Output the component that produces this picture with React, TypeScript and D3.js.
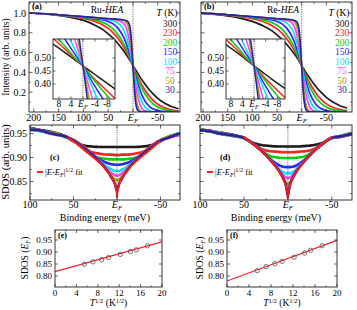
import * as d3 from "d3";

const FONT = "'Liberation Serif', 'Times New Roman', Times, serif";
const AXIS = "#222";

// temperatures (K) in legend order, and the colour of each curve
const temps = ["300", "230", "200", "150", "100", "75", "50", "30"];
const tempColors = ["#1b1b1b", "#ff2424", "#0ccf0c", "#2626ff", "#00e4ff", "#ff40ff", "#a8981c", "#25259c"];

// (a),(b) spectra: binding energy (meV) and intensity per temperature
const energy = [210, 175, 150, 125, 100, 80, 60, 50, 40, 30, 20, 15, 10, 6, 3, 0, -3, -6, -10, -15, -20, -30, -40, -50, -65, -80, -92];
const ruSpectra = [
  [1.0, 0.988, 0.975, 0.955, 0.925, 0.885, 0.83, 0.79, 0.745, 0.69, 0.626, 0.59, 0.553, 0.521, 0.496, 0.47, 0.445, 0.42, 0.387, 0.347, 0.31, 0.242, 0.185, 0.138, 0.085, 0.05, 0.033],
  [1.0, 0.99, 0.979, 0.963, 0.945, 0.92, 0.877, 0.845, 0.8, 0.742, 0.668, 0.624, 0.575, 0.534, 0.5, 0.47, 0.43, 0.396, 0.352, 0.3, 0.255, 0.178, 0.12, 0.078, 0.04, 0.02, 0.012],
  [1.0, 0.991, 0.98, 0.968, 0.953, 0.935, 0.903, 0.877, 0.838, 0.78, 0.7, 0.652, 0.595, 0.545, 0.505, 0.47, 0.425, 0.383, 0.33, 0.27, 0.218, 0.138, 0.085, 0.05, 0.022, 0.01, 0.005],
  [1.0, 0.991, 0.981, 0.97, 0.958, 0.945, 0.93, 0.915, 0.89, 0.845, 0.766, 0.71, 0.638, 0.572, 0.52, 0.47, 0.41, 0.355, 0.285, 0.21, 0.15, 0.07, 0.032, 0.014, 0.004, 0.001, 0],
  [1.0, 0.992, 0.982, 0.971, 0.961, 0.952, 0.942, 0.935, 0.922, 0.898, 0.84, 0.785, 0.7, 0.615, 0.54, 0.47, 0.39, 0.315, 0.228, 0.14, 0.082, 0.022, 0.005, 0.001, 0, 0, 0],
  [1.0, 0.992, 0.982, 0.972, 0.962, 0.953, 0.945, 0.94, 0.935, 0.925, 0.9, 0.865, 0.785, 0.68, 0.58, 0.47, 0.35, 0.25, 0.15, 0.065, 0.025, 0.003, 0, 0, 0, 0, 0],
  [1.0, 0.992, 0.982, 0.972, 0.962, 0.954, 0.946, 0.942, 0.938, 0.933, 0.925, 0.91, 0.87, 0.78, 0.64, 0.47, 0.29, 0.15, 0.05, 0.01, 0.002, 0, 0, 0, 0, 0, 0],
  [1.0, 0.992, 0.982, 0.972, 0.963, 0.955, 0.947, 0.943, 0.94, 0.936, 0.932, 0.925, 0.91, 0.855, 0.71, 0.47, 0.22, 0.075, 0.015, 0.002, 0, 0, 0, 0, 0, 0, 0],
];
const reSpectra = [
  [1.0, 0.985, 0.97, 0.948, 0.915, 0.875, 0.82, 0.78, 0.735, 0.682, 0.622, 0.588, 0.553, 0.522, 0.496, 0.47, 0.445, 0.42, 0.388, 0.35, 0.315, 0.25, 0.195, 0.148, 0.095, 0.058, 0.04],
  [1.0, 0.989, 0.977, 0.961, 0.942, 0.916, 0.872, 0.84, 0.796, 0.738, 0.665, 0.622, 0.574, 0.533, 0.5, 0.47, 0.432, 0.398, 0.355, 0.304, 0.26, 0.183, 0.125, 0.082, 0.043, 0.022, 0.013],
  [1.0, 0.991, 0.98, 0.968, 0.953, 0.935, 0.903, 0.877, 0.838, 0.78, 0.7, 0.652, 0.595, 0.545, 0.505, 0.47, 0.425, 0.383, 0.33, 0.27, 0.218, 0.138, 0.085, 0.05, 0.022, 0.01, 0.005],
  [1.0, 0.991, 0.981, 0.97, 0.958, 0.945, 0.93, 0.915, 0.89, 0.845, 0.766, 0.71, 0.638, 0.572, 0.52, 0.47, 0.41, 0.355, 0.285, 0.21, 0.15, 0.07, 0.032, 0.014, 0.004, 0.001, 0],
  [1.0, 0.992, 0.982, 0.971, 0.961, 0.952, 0.942, 0.935, 0.922, 0.898, 0.84, 0.785, 0.7, 0.615, 0.54, 0.47, 0.39, 0.315, 0.228, 0.14, 0.082, 0.022, 0.005, 0.001, 0, 0, 0],
  [1.0, 0.992, 0.982, 0.972, 0.962, 0.953, 0.945, 0.94, 0.935, 0.925, 0.9, 0.865, 0.785, 0.68, 0.58, 0.47, 0.35, 0.25, 0.15, 0.065, 0.025, 0.003, 0, 0, 0, 0, 0],
  [1.0, 0.992, 0.982, 0.972, 0.962, 0.954, 0.946, 0.942, 0.938, 0.933, 0.925, 0.91, 0.87, 0.78, 0.64, 0.47, 0.29, 0.15, 0.05, 0.01, 0.002, 0, 0, 0, 0, 0, 0],
  [1.0, 0.992, 0.982, 0.972, 0.963, 0.955, 0.947, 0.943, 0.94, 0.936, 0.932, 0.925, 0.91, 0.855, 0.71, 0.47, 0.22, 0.075, 0.015, 0.002, 0, 0, 0, 0, 0, 0, 0],
];

// (c),(d) symmetrized DOS per temperature
const sdosEnergy = [100, 90, 80, 70, 60, 50, 40, 30, 20, 12, 6, 2, 0, -2, -6, -12, -20, -30, -40, -50, -60, -72];
const ruSdos = [
  [0.962, 0.958, 0.955, 0.951, 0.945, 0.934, 0.926, 0.923, 0.922, 0.922, 0.922, 0.922, 0.922, 0.922, 0.922, 0.922, 0.922, 0.923, 0.926, 0.934, 0.944, 0.950],
  [0.959, 0.956, 0.953, 0.948, 0.944, 0.937, 0.925, 0.912, 0.908, 0.906, 0.906, 0.905, 0.905, 0.905, 0.906, 0.906, 0.908, 0.912, 0.925, 0.937, 0.942, 0.948],
  [0.961, 0.957, 0.952, 0.950, 0.943, 0.936, 0.92, 0.906, 0.899, 0.897, 0.896, 0.896, 0.896, 0.896, 0.896, 0.897, 0.899, 0.906, 0.92, 0.936, 0.944, 0.950],
  [0.958, 0.956, 0.954, 0.948, 0.945, 0.935, 0.922, 0.909, 0.896, 0.889, 0.886, 0.885, 0.885, 0.885, 0.886, 0.889, 0.896, 0.909, 0.922, 0.935, 0.942, 0.947],
  [0.960, 0.955, 0.952, 0.949, 0.942, 0.935, 0.922, 0.908, 0.893, 0.881, 0.875, 0.872, 0.872, 0.872, 0.875, 0.881, 0.893, 0.908, 0.922, 0.935, 0.943, 0.951],
  [0.957, 0.958, 0.951, 0.947, 0.944, 0.935, 0.922, 0.908, 0.892, 0.877, 0.867, 0.863, 0.862, 0.863, 0.867, 0.877, 0.892, 0.908, 0.922, 0.935, 0.941, 0.948],
  [0.960, 0.956, 0.953, 0.950, 0.943, 0.935, 0.922, 0.908, 0.892, 0.875, 0.861, 0.854, 0.852, 0.854, 0.861, 0.875, 0.892, 0.908, 0.922, 0.935, 0.944, 0.949],
  [0.958, 0.957, 0.952, 0.948, 0.944, 0.935, 0.922, 0.908, 0.891, 0.874, 0.857, 0.843, 0.830, 0.843, 0.857, 0.874, 0.891, 0.908, 0.922, 0.935, 0.942, 0.950],
];
const reSdos = [
  [0.959, 0.956, 0.953, 0.950, 0.946, 0.940, 0.931, 0.926, 0.924, 0.923, 0.923, 0.923, 0.923, 0.923, 0.923, 0.923, 0.924, 0.926, 0.931, 0.940, 0.945, 0.951],
  [0.957, 0.955, 0.951, 0.947, 0.945, 0.941, 0.93, 0.918, 0.913, 0.912, 0.911, 0.911, 0.911, 0.911, 0.911, 0.912, 0.913, 0.918, 0.93, 0.941, 0.943, 0.949],
  [0.958, 0.954, 0.952, 0.949, 0.944, 0.941, 0.929, 0.915, 0.903, 0.9, 0.899, 0.899, 0.899, 0.899, 0.899, 0.9, 0.903, 0.915, 0.929, 0.941, 0.945, 0.950],
  [0.956, 0.956, 0.950, 0.948, 0.946, 0.941, 0.929, 0.914, 0.897, 0.886, 0.881, 0.88, 0.88, 0.88, 0.881, 0.886, 0.897, 0.914, 0.929, 0.941, 0.943, 0.948],
  [0.959, 0.954, 0.953, 0.947, 0.944, 0.941, 0.929, 0.914, 0.896, 0.88, 0.87, 0.867, 0.867, 0.867, 0.87, 0.88, 0.896, 0.914, 0.929, 0.941, 0.945, 0.951],
  [0.957, 0.956, 0.951, 0.949, 0.945, 0.941, 0.929, 0.914, 0.895, 0.878, 0.864, 0.858, 0.857, 0.858, 0.864, 0.878, 0.895, 0.914, 0.929, 0.941, 0.943, 0.949],
  [0.958, 0.955, 0.952, 0.948, 0.944, 0.941, 0.929, 0.914, 0.895, 0.877, 0.86, 0.847, 0.844, 0.847, 0.86, 0.877, 0.895, 0.914, 0.929, 0.941, 0.944, 0.950],
  [0.957, 0.955, 0.951, 0.948, 0.945, 0.941, 0.929, 0.914, 0.895, 0.877, 0.859, 0.84, 0.821, 0.84, 0.859, 0.877, 0.895, 0.914, 0.929, 0.941, 0.944, 0.949],
];

// |E-E_F|^1/2 fits in (c),(d)
const ruFitE = [57, 45, 35, 25, 18, 12, 8, 4, 2, 1, 0.3, 0, -0.3, -1, -2, -4, -8, -12, -18, -25, -35, -45, -50];
const ruFit = [0.942, 0.927, 0.912, 0.897, 0.886, 0.873, 0.864, 0.851, 0.841, 0.834, 0.827, 0.816, 0.827, 0.834, 0.841, 0.851, 0.864, 0.873, 0.886, 0.897, 0.912, 0.927, 0.934];
const reFitE = [50, 45, 35, 25, 18, 12, 8, 4, 2, 1, 0.3, 0, -0.3, -1, -2, -4, -8, -12, -18, -25, -35, -45, -50];
const reFit = [0.943, 0.936, 0.922, 0.905, 0.891, 0.877, 0.865, 0.85, 0.84, 0.832, 0.824, 0.814, 0.824, 0.832, 0.84, 0.85, 0.865, 0.877, 0.891, 0.905, 0.922, 0.936, 0.943];

// (e),(f) SDOS(E_F) against T^1/2, with linear fits
const sqrtT = [5.5, 7.1, 8.7, 10.0, 12.2, 14.1, 15.2, 17.3];
const ruSdosEf = [0.849, 0.859, 0.868, 0.877, 0.89, 0.902, 0.909, 0.926];
const reSdosEf = [0.822, 0.839, 0.851, 0.861, 0.878, 0.896, 0.907, 0.926];
const fitLineX = [0, 20];
const ruFitLine = [0.818, 0.942];
const reFitLine = [0.779, 0.949];

// tick values
const mainTicks = [200, 150, 100, 50, 0, -50];
const mainMinor = [175, 125, 75, 25, -25, -75];
const intensityTicks = [0.2, 0.4, 0.6, 0.8, 1.0];
const intensityMinor = [0.1, 0.3, 0.5, 0.7, 0.9, 1.1];
const insetTicks = [8, 4, 0, -4, -8];
const insetYTicks = [0.4, 0.45, 0.5];
const sdosXTicks = [100, 50, 0, -50];
const sdosXMinor = [75, 25, -25];
const sdosYTicks = [0.85, 0.9, 0.95];
const sdosYMinor = [0.825, 0.875, 0.925];
const tTicks = [0, 4, 8, 12, 16, 20];
const tMinor = [2, 6, 10, 14, 18];
const efTicks = [0.8, 0.85, 0.9, 0.95];

const linePath = (xs: number[], ys: number[], x: any, y: any, curve: any = d3.curveMonotoneX) =>
  d3.line<number>().x((_, i) => x(xs[i])).y((d) => y(d)).curve(curve)(ys) ?? "";

function Frame({ x, y, l, r, t, b, xMajor, xMinor = [], yMajor, yMinor = [], len = 3.5 }: any) {
  let d = "";
  for (const v of xMajor) d += `M${x(v)},${b}v${-len}M${x(v)},${t}v${len}`;
  for (const v of xMinor) d += `M${x(v)},${b}v${-len / 2}M${x(v)},${t}v${len / 2}`;
  for (const v of yMajor) d += `M${l},${y(v)}h${len}M${r},${y(v)}h${-len}`;
  for (const v of yMinor) d += `M${l},${y(v)}h${len / 2}M${r},${y(v)}h${-len / 2}`;
  return (
    <g>
      <path d={d} stroke={AXIS} strokeWidth={0.7} fill="none" />
      <rect x={l} y={t} width={r - l} height={b - t} fill="none" stroke={AXIS} strokeWidth={0.9} />
    </g>
  );
}

function EFText({ x, y, size = 10 }: any) {
  return (
    <text x={x} y={y} fontSize={size} textAnchor="middle">
      <tspan fontStyle="italic">E</tspan>
      <tspan fontStyle="italic" fontSize={size * 0.68} dy={size * 0.2}>F</tspan>
    </text>
  );
}

function EnergyLabel({ v, x, y, size = 10 }: any) {
  if (v === 0) return <EFText x={x} y={y} size={size} />;
  return (
    <text x={x} y={y} fontSize={size} textAnchor="middle">{v}</text>
  );
}

function SpectraPanel({ id, tag, sample, l, r, dom, spectra, showY, ins, legendX, titleX }: any) {
  const t = 2, b = 112;
  const x = d3.scaleLinear().domain(dom).range([l, r]);
  const y = d3.scaleLinear().domain([0, 1]).range([112, 13]);
  const it = 39, ib = 99;
  const xi = d3.scaleLinear().domain(ins.dom).range([ins.l, ins.r]);
  const yi = d3.scaleLinear().domain([0.4, 0.5]).range([84, 58]);
  return (
    <g>
      <defs>
        <clipPath id={`clip-${id}`}><rect x={l} y={t} width={r - l} height={b - t} /></clipPath>
        <clipPath id={`clipi-${id}`}><rect x={ins.l} y={it} width={ins.r - ins.l} height={ib - it} /></clipPath>
      </defs>
      <g clipPath={`url(#clip-${id})`}>
        {spectra.map((row: number[], k: number) => (
          <path key={k} d={linePath(energy, row, x, y)} fill="none" stroke={tempColors[k]} strokeWidth={1.7} />
        ))}
      </g>
      <line x1={x(0)} x2={x(0)} y1={t} y2={b} stroke="#444" strokeWidth={0.9} strokeDasharray="1,1.3" />
      <Frame x={x} y={y} l={l} r={r} t={t} b={b} xMajor={mainTicks} xMinor={mainMinor.filter((v) => v < dom[0] && v > dom[1])} yMajor={intensityTicks} yMinor={intensityMinor} />
      {mainTicks.map((v) => <EnergyLabel key={v} v={v} x={x(v)} y={121} />)}
      {showY && intensityTicks.map((v) => (
        <text key={v} x={l - 3} y={y(v) + 3.5} fontSize={10} textAnchor="end">{v.toFixed(1)}</text>
      ))}
      <text x={l + 3} y={9} fontSize={8.5} fontWeight="bold">{tag}</text>
      <text x={titleX} y={13} fontSize={9.5} textAnchor="middle">
        {sample}-<tspan fontStyle="italic">HEA</tspan>
      </text>
      <text x={legendX - 3} y={16} fontSize={9.5} textAnchor="middle">
        <tspan fontStyle="italic">T</tspan> (K)
      </text>
      {temps.map((tt, k) => (
        <text key={tt} x={legendX} y={27 + k * 9.45} fontSize={9.5} textAnchor="middle" fill={tempColors[k]}>{tt}</text>
      ))}
      {/* inset near E_F */}
      <rect x={ins.l} y={it} width={ins.r - ins.l} height={ib - it} fill="#fff" />
      <g clipPath={`url(#clipi-${id})`}>
        {spectra.map((row: number[], k: number) => (
          <path key={k} d={linePath(energy, row, xi, yi)} fill="none" stroke={tempColors[k]} strokeWidth={1.5} />
        ))}
      </g>
      <line x1={xi(0)} x2={xi(0)} y1={it} y2={ib} stroke="#444" strokeWidth={0.9} strokeDasharray="1,1.3" />
      <Frame x={xi} y={yi} l={ins.l} r={ins.r} t={it} b={ib} xMajor={insetTicks} yMajor={insetYTicks} len={2.5} />
      {insetTicks.map((v) => <EnergyLabel key={v} v={v} x={xi(v)} y={107} size={9.5} />)}
      {insetYTicks.map((v) => (
        <text key={v} x={ins.l - 2} y={yi(v) + 3.3} fontSize={9.5} textAnchor="end">{v.toFixed(2)}</text>
      ))}
    </g>
  );
}

function FitLegend({ x, y }: any) {
  return (
    <g>
      <line x1={x} x2={x + 6} y1={y} y2={y} stroke="#ff2020" strokeWidth={2} />
      <text x={x + 8} y={y + 3} fontSize={8.5}>
        |<tspan fontStyle="italic">E</tspan>-<tspan fontStyle="italic">E</tspan>
        <tspan fontStyle="italic" fontSize={6} dy={2}>F</tspan>
        <tspan dy={-2}>|</tspan>
        <tspan fontSize={6} dy={-3.5}>1/2</tspan>
        <tspan dy={3.5}> fit</tspan>
      </text>
    </g>
  );
}

function SdosPanel({ id, tag, l, r, dom, sdos, fitE, fit, showY }: any) {
  const t = 125, b = 200;
  const x = d3.scaleLinear().domain(dom).range([l, r]);
  const y = d3.scaleLinear().domain([0.85, 0.95]).range([181.5, 133.5]);
  return (
    <g>
      <defs>
        <clipPath id={`clip-${id}`}><rect x={l} y={t} width={r - l} height={b - t} /></clipPath>
      </defs>
      <g clipPath={`url(#clip-${id})`}>
        {sdos.map((row: number[], k: number) => (
          <path key={k} d={linePath(sdosEnergy, row, x, y)} fill="none" stroke={tempColors[k]} strokeWidth={2.6} strokeLinecap="round" strokeDasharray="2,0.6" />
        ))}
        <path d={linePath(fitE, fit, x, y, d3.curveLinear)} fill="none" stroke="#ff1a1a" strokeWidth={2} />
      </g>
      <line x1={x(0)} x2={x(0)} y1={t} y2={b} stroke="#444" strokeWidth={0.9} strokeDasharray="1,1.3" />
      <Frame x={x} y={y} l={l} r={r} t={t} b={b} xMajor={sdosXTicks} xMinor={sdosXMinor} yMajor={sdosYTicks} yMinor={sdosYMinor} />
      {sdosXTicks.map((v) => <EnergyLabel key={v} v={v} x={x(v)} y={207.5} />)}
      {showY && sdosYTicks.map((v) => (
        <text key={v} x={l - 3} y={y(v) + 3.5} fontSize={10} textAnchor="end">{v.toFixed(2)}</text>
      ))}
      <text x={l + 20} y={160} fontSize={8.5} fontWeight="bold">{tag}</text>
      <FitLegend x={l + 7} y={172} />
      <text x={(l + r) / 2} y={220.5} fontSize={10} textAnchor="middle">Binding energy (meV)</text>
    </g>
  );
}

function EfPanel({ id, tag, l, r, vals, line, labelX }: any) {
  const t = 230, b = 287;
  const x = d3.scaleLinear().domain([0, 20]).range([l, r]);
  const y = d3.scaleLinear().domain([0.8, 0.95]).range([276, 240]);
  return (
    <g>
      <defs>
        <clipPath id={`clip-${id}`}><rect x={l} y={t} width={r - l} height={b - t} /></clipPath>
      </defs>
      <g clipPath={`url(#clip-${id})`}>
        <path d={linePath(fitLineX, line, x, y, d3.curveLinear)} stroke="#ff1a1a" strokeWidth={1.2} fill="none" />
      </g>
      {vals.map((v: number, i: number) => (
        <circle key={i} cx={x(sqrtT[i])} cy={y(v)} r={2.2} fill="none" stroke="#555" strokeWidth={0.8} />
      ))}
      <Frame x={x} y={y} l={l} r={r} t={t} b={b} xMajor={tTicks} xMinor={tMinor} yMajor={efTicks} len={3} />
      {tTicks.map((v) => (
        <text key={v} x={x(v)} y={296} fontSize={9} textAnchor="middle">{v}</text>
      ))}
      {efTicks.map((v) => (
        <text key={v} x={l - 3} y={y(v) + 3.2} fontSize={9} textAnchor="end">{v.toFixed(2)}</text>
      ))}
      <text x={l + 3} y={238} fontSize={8} fontWeight="bold">{tag}</text>
      <text x={(l + r) / 2} y={306} fontSize={9.5} textAnchor="middle">
        <tspan fontStyle="italic">T</tspan>
        <tspan fontSize={6.5} dy={-3.5}>1/2</tspan>
        <tspan dy={3.5}> (K</tspan>
        <tspan fontSize={6.5} dy={-3.5}>1/2</tspan>
        <tspan dy={3.5}>)</tspan>
      </text>
      <text transform={`translate(${labelX},258) rotate(-90)`} fontSize={9.5} textAnchor="middle">
        SDOS (<tspan fontStyle="italic">E</tspan>
        <tspan fontStyle="italic" fontSize={6.5} dy={2}>F</tspan>
        <tspan dy={-2}>)</tspan>
      </text>
    </g>
  );
}

export default function App() {
  return (
    <svg
      width={357}
      height={310}
      viewBox="0 0 357 310"
      style={{ position: "absolute", left: 0, top: 0, background: "#fff" }}
      fontFamily={FONT}
    >
      <SpectraPanel id="a" tag="(a)" sample="Ru" l={29} r={180} dom={[209.7, -94.8]} spectra={ruSpectra} showY
        ins={{ l: 53, r: 115, dom: [10, -10.7] }} legendX={170} titleX={107} />
      <SpectraPanel id="b" tag="(b)" sample="Re" l={201} r={352} dom={[204, -102]} spectra={reSpectra} showY={false}
        ins={{ l: 226, r: 285, dom: [9.7, -10.7] }} legendX={342} titleX={283} />
      <text transform="translate(9,57) rotate(-90)" fontSize={9.5} textAnchor="middle">Intensity (arb. units)</text>

      <SdosPanel id="c" tag="(c)" l={30} r={180} dom={[100, -72.4]} sdos={ruSdos} fitE={ruFitE} fit={ruFit} showY />
      <SdosPanel id="d" tag="(d)" l={200} r={352} dom={[100, -73]} sdos={reSdos} fitE={reFitE} fit={reFit} showY={false} />
      <text transform="translate(9,162) rotate(-90)" fontSize={10.5} textAnchor="middle">SDOS (arb. units)</text>

      <EfPanel id="e" tag="(e)" l={55} r={162} vals={ruSdosEf} line={ruFitLine} labelX={28} />
      <EfPanel id="f" tag="(f)" l={227} r={337} vals={reSdosEf} line={reFitLine} labelX={203} />
    </svg>
  );
}
